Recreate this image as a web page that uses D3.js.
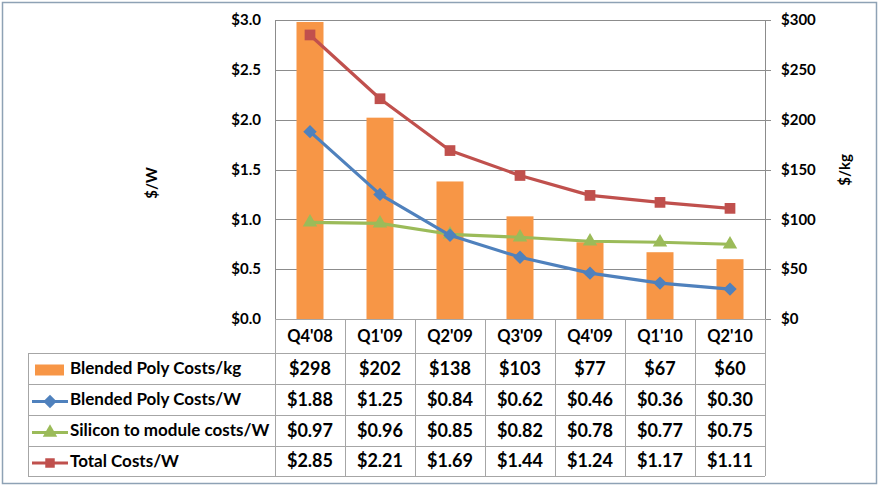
<!DOCTYPE html>
<html><head><meta charset="utf-8">
<script src="https://cdn.jsdelivr.net/npm/d3@7"></script>
<style>body{margin:0;background:#fff}svg{display:block}text{font-family:Lato,"Open Sans",sans-serif;font-weight:bold;fill:#000}</style>
</head><body>
<script>
const categories = ["Q4'08","Q1'09","Q2'09","Q3'09","Q4'09","Q1'10","Q2'10"];
const polyKg = [298,202,138,103,77,67,60];
const polyW = [1.88,1.25,0.84,0.62,0.46,0.36,0.30];
const siliconW = [0.97,0.96,0.85,0.82,0.78,0.77,0.75];
const totalW = [2.85,2.21,1.69,1.44,1.24,1.17,1.11];
const leftTicks = [0,0.5,1.0,1.5,2.0,2.5,3.0];
const rightTicks = [0,50,100,150,200,250,300];
const seriesNames = ["Blended Poly Costs/kg","Blended Poly Costs/W","Silicon to module costs/W","Total Costs/W"];
const labelsKg = ["$298","$202","$138","$103","$77","$67","$60"];
const labelsPolyW = ["$1.88","$1.25","$0.84","$0.62","$0.46","$0.36","$0.30"];
const labelsSilW = ["$0.97","$0.96","$0.85","$0.82","$0.78","$0.77","$0.75"];
const labelsTotW = ["$2.85","$2.21","$1.69","$1.44","$1.24","$1.17","$1.11"];

const W=880,H=488;
const svg=d3.select("body").append("svg").attr("width",W).attr("height",H);
svg.append("rect").attr("x",2.5).attr("y",2.5).attr("width",874).attr("height",481).attr("fill","#fff").attr("stroke","#8EA2B5").attr("stroke-width",1.5);

const L=275,R=765,T=20,B=319;
const x=d3.scaleBand().domain(categories).range([L,R]);
const yL=d3.scaleLinear().domain([0,3]).range([B,T]);
const yR=d3.scaleLinear().domain([0,300]).range([B,T]);
const colors={bar:"#F79646",blue:"#4F81BD",green:"#9BBB59",red:"#C0504D"};

// custom diamond (square rotated 45deg)
const diamond={draw(ctx,size){const r=Math.sqrt(size/2);ctx.moveTo(0,-r);ctx.lineTo(r,0);ctx.lineTo(0,r);ctx.lineTo(-r,0);ctx.closePath();}};

// gridlines
svg.append("g").selectAll("line").data(leftTicks.filter(d=>d>0)).join("line")
 .attr("x1",L).attr("x2",R+6).attr("y1",d=>Math.round(yL(d))+0.5).attr("y2",d=>Math.round(yL(d))+0.5)
 .attr("stroke","#8C8C8C").attr("stroke-width",1);
svg.append("line").attr("x1",L+0.5).attr("x2",L+0.5).attr("y1",T).attr("y2",B).attr("stroke","#8C8C8C");
svg.append("line").attr("x1",R+0.5).attr("x2",R+0.5).attr("y1",T).attr("y2",B).attr("stroke","#8C8C8C");
svg.append("line").attr("x1",R).attr("x2",R+6).attr("y1",B+0.5).attr("y2",B+0.5).attr("stroke","#8C8C8C");

const axL=d3.axisLeft(yL).tickValues(leftTicks).tickSize(0).tickPadding(14).tickFormat(d=>"$"+d3.format(".1f")(d));
const gL=svg.append("g").attr("transform",`translate(${L},0)`).call(axL);
gL.select(".domain").remove();
gL.selectAll("text").style("font-size","15px").style("font-family","Lato, sans-serif").style("font-weight","bold");
const axR=d3.axisRight(yR).tickValues(rightTicks).tickSize(0).tickPadding(16).tickFormat(d=>"$"+d);
const gR=svg.append("g").attr("transform",`translate(${R},0)`).call(axR);
gR.select(".domain").remove();
gR.selectAll("text").style("font-size","15px").style("font-family","Lato, sans-serif").style("font-weight","bold");

svg.append("text").attr("transform",`translate(152,183) rotate(-90)`).attr("text-anchor","middle").attr("dy","0.35em").style("font-size","15px").text("$/W");
svg.append("text").attr("transform",`translate(845,170) rotate(-90)`).attr("text-anchor","middle").attr("dy","0.35em").style("font-size","15px").text("$/kg");

// bars
const bw=27;
svg.append("g").selectAll("rect").data(polyKg).join("rect")
 .attr("x",(d,i)=>x(categories[i])+x.bandwidth()/2-bw/2).attr("width",bw)
 .attr("y",d=>yR(d)).attr("height",d=>B-yR(d)).attr("fill",colors.bar);

const cx=i=>x(categories[i])+x.bandwidth()/2;
function drawLine(vals,color,shape,size){
  const line=d3.line().x((d,i)=>cx(i)).y(d=>yL(d));
  svg.append("path").datum(vals).attr("d",line).attr("fill","none").attr("stroke",color).attr("stroke-width",3.2).attr("stroke-linejoin","round");
  svg.append("g").selectAll("path").data(vals).join("path")
   .attr("transform",(d,i)=>`translate(${cx(i)},${yL(d)})`)
   .attr("d",d3.symbol().type(shape).size(size)())
   .attr("fill",color);
}
drawLine(siliconW,colors.green,d3.symbolTriangle,90);
drawLine(polyW,colors.blue,diamond,90);
drawLine(totalW,colors.red,d3.symbolSquare,115);

// table
const rowsY=[319,353,384,415,446,476];
const tl=28;
const gridC="#A6A6A6";
const tg=svg.append("g");
rowsY.forEach((y,i)=>{
  tg.append("line").attr("x1",i===0?L:tl).attr("x2",R).attr("y1",y+0.5).attr("y2",y+0.5).attr("stroke",gridC);
});
const colEdges=categories.map(c=>x(c)).concat([R]);
colEdges.forEach(xx=>{
  tg.append("line").attr("x1",Math.round(xx)+0.5).attr("x2",Math.round(xx)+0.5).attr("y1",319).attr("y2",476).attr("stroke",gridC);
});
tg.append("line").attr("x1",tl+0.5).attr("x2",tl+0.5).attr("y1",353).attr("y2",476).attr("stroke",gridC);

tg.selectAll("text.h").data(categories).join("text").attr("class","h")
 .attr("x",d=>x(d)+x.bandwidth()/2).attr("y",(319+353)/2).attr("dy","0.35em").attr("text-anchor","middle").style("font-size","16.5px").text(d=>d);
const tableRows=[labelsKg,labelsPolyW,labelsSilW,labelsTotW];
tableRows.forEach((row,r)=>{
  const yc=(rowsY[r+1]+rowsY[r+2])/2;
  tg.append("g").selectAll("text").data(row).join("text")
   .attr("x",(d,i)=>cx(i)).attr("y",yc).attr("dy","0.35em").attr("text-anchor","middle").style("font-size","18px").text(d=>d);
  tg.append("text").attr("x",70).attr("y",yc).attr("dy","0.35em").style("font-size","17px").text(seriesNames[r]);
});
const k0=(rowsY[1]+rowsY[2])/2;
tg.append("rect").attr("x",35).attr("y",k0-4).attr("width",29).attr("height",11).attr("fill",colors.bar);
const keys=[[colors.blue,diamond],[colors.green,d3.symbolTriangle],[colors.red,d3.symbolSquare]];
keys.forEach((k,j)=>{
  const yc=(rowsY[j+2]+rowsY[j+3])/2+2;
  tg.append("line").attr("x1",32).attr("x2",68).attr("y1",yc).attr("y2",yc).attr("stroke",k[0]).attr("stroke-width",3);
  tg.append("path").attr("transform",`translate(50,${yc})`).attr("d",d3.symbol().type(k[1]).size(90)()).attr("fill",k[0]);
});
</script>
</body></html>
